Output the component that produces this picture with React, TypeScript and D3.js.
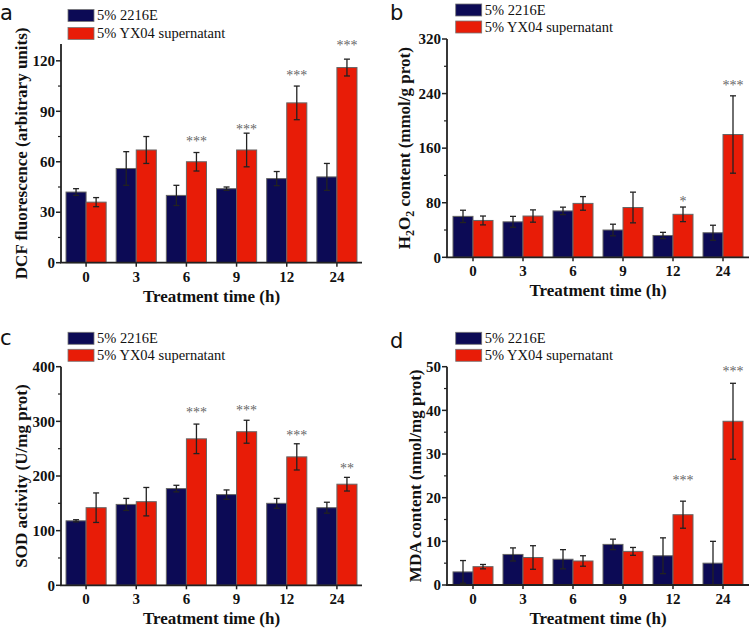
import React from "react";
import * as d3 from "d3";

// ---- data ----
const times = ["0", "3", "6", "9", "12", "24"];
const seriesNames = ["5% 2216E", "5% YX04 supernatant"];

const dcfCtrl = [42, 56, 40, 44, 50, 51];
const dcfCtrlErr = [2, 10, 6, 1, 4.2, 8];
const dcfYx = [36, 67, 60, 67, 95, 116];
const dcfYxErr = [2.7, 8, 5.5, 10, 10, 5];
const dcfStars = ["", "", "***", "***", "***", "***"];
const dcfStarAt = [0, 0, 74, 81.5, 113.5, 131];
const dcfTicks = [0, 30, 60, 90, 120];

const h2o2Ctrl = [60, 52, 68, 40, 32, 36];
const h2o2CtrlErr = [9, 8, 5.5, 8.5, 4.6, 11];
const h2o2Yx = [54, 60.5, 79, 73, 63, 180];
const h2o2YxErr = [6.5, 9, 10, 22.5, 10.7, 56.7];
const h2o2Stars = ["", "", "", "", "*", "***"];
const h2o2StarAt = [0, 0, 0, 0, 86.5, 257];
const h2o2Ticks = [0, 80, 160, 240, 320];

const sodCtrl = [118, 148, 177, 166, 150, 142];
const sodCtrlErr = [2, 11, 6, 8.5, 9, 10];
const sodYx = [142, 153, 268, 281, 235, 185];
const sodYxErr = [27, 26, 27, 21, 24, 12.5];
const sodStars = ["", "", "***", "***", "***", "**"];
const sodStarAt = [0, 0, 322, 326, 280, 220];
const sodTicks = [0, 100, 200, 300, 400];

const mdaCtrl = [3, 7, 5.9, 9.3, 6.7, 5];
const mdaCtrlErr = [2.6, 1.5, 2.2, 1.2, 4.1, 5];
const mdaYx = [4.2, 6.3, 5.5, 7.7, 16.1, 37.5];
const mdaYxErr = [0.5, 2.7, 1.2, 0.9, 3.1, 8.7];
const mdaStars = ["", "", "", "", "***", "***"];
const mdaStarAt = [0, 0, 0, 0, 24.8, 49.7];
const mdaTicks = [0, 10, 20, 30, 40, 50];

const NAVY = "#0c0a55";
const RED = "#e81c07";
const SERIF = "'Liberation Serif', 'Times New Roman', serif";
const SANS = "'DejaVu Sans', 'Open Sans', sans-serif";

type PanelProps = {
  letter: string;
  letterX: number;
  letterY: number;
  x0: number;
  x1: number;
  base: number;
  top: number;
  ymax: number;
  ticks: number[];
  ctrl: number[];
  ctrlErr: number[];
  yx: number[];
  yxErr: number[];
  stars: string[];
  starAt: number[];
  titleX: number;
  title: React.ReactNode;
  legX: number;
  legY: number;
  legGap: number;
  outerPad: number;
};

function Panel(p: PanelProps) {
  const x = d3
    .scaleBand<string>()
    .domain(times)
    .range([p.x0, p.x1])
    .paddingInner(0.2)
    .paddingOuter(p.outerPad);
  const x2 = d3
    .scaleBand<number>()
    .domain([0, 1])
    .range([0, x.bandwidth()]);
  const y = d3.scaleLinear().domain([0, p.ymax]).range([p.base, p.top]);
  const step = p.ticks[1] - p.ticks[0];
  const minor = d3.range(step / 2, p.ymax, step);
  const series = [
    { vals: p.ctrl, errs: p.ctrlErr, color: NAVY },
    { vals: p.yx, errs: p.yxErr, color: RED },
  ];
  const bw = x2.bandwidth();
  return (
    <g>
      <text x={p.letterX} y={p.letterY} fontFamily={SANS} fontSize={21} fill="#111">
        {p.letter}
      </text>
      {/* legend */}
      {seriesNames.map((n, i) => (
        <g key={n}>
          <rect
            x={p.legX}
            y={p.legY + i * p.legGap}
            width={26}
            height={12}
            fill={series[i].color}
            stroke="#777"
            strokeWidth={0.8}
          />
          <text
            x={p.legX + 29}
            y={p.legY + i * p.legGap + 10.5}
            fontFamily={SERIF}
            fontSize={14.5}
            fill="#111"
          >
            {n}
          </text>
        </g>
      ))}
      {/* bars */}
      {series.map((s, si) =>
        times.map((t, i) => {
          const bx = (x(t) as number) + (x2(si) as number);
          return (
            <g key={`${si}-${t}`}>
              <rect
                x={bx}
                y={y(s.vals[i])}
                width={bw}
                height={p.base - y(s.vals[i])}
                fill={s.color}
                stroke="#666"
                strokeWidth={1}
              />
              <line
                x1={bx + bw / 2}
                x2={bx + bw / 2}
                y1={y(Math.max(0, s.vals[i] - s.errs[i]))}
                y2={y(s.vals[i] + s.errs[i])}
                stroke="#222"
                strokeWidth={1.3}
              />
              <line
                x1={bx + bw / 2 - 3}
                x2={bx + bw / 2 + 3}
                y1={y(s.vals[i] + s.errs[i])}
                y2={y(s.vals[i] + s.errs[i])}
                stroke="#222"
                strokeWidth={1.3}
              />
              {s.vals[i] - s.errs[i] > 0 && (
                <line
                  x1={bx + bw / 2 - 3}
                  x2={bx + bw / 2 + 3}
                  y1={y(s.vals[i] - s.errs[i])}
                  y2={y(s.vals[i] - s.errs[i])}
                  stroke="#222"
                  strokeWidth={1.3}
                />
              )}
            </g>
          );
        })
      )}
      {/* stars */}
      {times.map((t, i) =>
        p.stars[i] ? (
          <text
            key={"s" + t}
            x={(x(t) as number) + (x2(1) as number) + bw / 2}
            y={y(p.starAt[i]) + 8}
            textAnchor="middle"
            fontFamily={SERIF}
            fontSize={14}
            fill="#666"
          >
            {p.stars[i]}
          </text>
        ) : null
      )}
      {/* y axis */}
      <line x1={p.x0} x2={p.x0} y1={p.base} y2={p.top} stroke="#222" strokeWidth={1.8} />
      {p.ticks.map((t) => (
        <g key={"yt" + t}>
          <line x1={p.x0 - 5} x2={p.x0} y1={y(t)} y2={y(t)} stroke="#222" strokeWidth={1.5} />
          <text
            x={p.x0 - 6}
            y={y(t)}
            dy="0.35em"
            textAnchor="end"
            fontFamily={SERIF}
            fontWeight="bold"
            fontSize={15}
            fill="#111"
          >
            {t}
          </text>
        </g>
      ))}
      {minor.map((t) => (
        <line key={"ym" + t} x1={p.x0 - 3} x2={p.x0} y1={y(t)} y2={y(t)} stroke="#222" strokeWidth={1.2} />
      ))}
      {/* x axis */}
      <line x1={p.x0 - 1} x2={p.x1} y1={p.base} y2={p.base} stroke="#222" strokeWidth={1.8} />
      {times.map((t) => {
        const cx = (x(t) as number) + x.bandwidth() / 2;
        return (
          <g key={"xt" + t}>
            <line x1={cx} x2={cx} y1={p.base} y2={p.base + 4} stroke="#222" strokeWidth={1.5} />
            <text
              x={cx}
              y={p.base + 19}
              textAnchor="middle"
              fontFamily={SERIF}
              fontWeight="bold"
              fontSize={15}
              fill="#111"
            >
              {t}
            </text>
          </g>
        );
      })}
      <text
        x={(p.x0 + p.x1) / 2}
        y={p.base + 39}
        textAnchor="middle"
        fontFamily={SERIF}
        fontWeight="bold"
        fontSize={17}
        fill="#111"
      >
        Treatment time (h)
      </text>
      <text
        transform={`translate(${p.titleX},${(p.base + p.top) / 2}) rotate(-90)`}
        textAnchor="middle"
        fontFamily={SERIF}
        fontWeight="bold"
        fontSize={17}
        fill="#111"
      >
        {p.title}
      </text>
    </g>
  );
}

export default function App() {
  return (
    <svg
      width={750}
      height={628}
      style={{ position: "absolute", left: 0, top: 0, background: "#fff" }}
    >
      <Panel
        letter="a"
        letterX={0}
        letterY={20}
        x0={61}
        x1={362}
        base={262.7}
        top={44}
        ymax={130}
        ticks={dcfTicks}
        ctrl={dcfCtrl}
        ctrlErr={dcfCtrlErr}
        yx={dcfYx}
        yxErr={dcfYxErr}
        stars={dcfStars}
        starAt={dcfStarAt}
        titleX={27}
        title="DCF fluorescence (arbitrary units)"
        legX={68}
        legY={9.5}
        legGap={18}
        outerPad={0.1}
      />
      <Panel
        letter="b"
        letterX={390}
        letterY={20}
        x0={447}
        x1={749}
        base={257.3}
        top={39}
        ymax={320}
        ticks={h2o2Ticks}
        ctrl={h2o2Ctrl}
        ctrlErr={h2o2CtrlErr}
        yx={h2o2Yx}
        yxErr={h2o2YxErr}
        stars={h2o2Stars}
        starAt={h2o2StarAt}
        titleX={410}
        title={
          <>
            H<tspan fontSize={12} dy={4}>2</tspan>
            <tspan dy={-4}>O</tspan>
            <tspan fontSize={12} dy={4}>2</tspan>
            <tspan dy={-4}> content (mmol/g prot)</tspan>
          </>
        }
        legX={455.7}
        legY={4}
        legGap={17}
        outerPad={0.12}
      />
      <Panel
        letter="c"
        letterX={0}
        letterY={345}
        x0={61}
        x1={362}
        base={585.3}
        top={366.7}
        ymax={400}
        ticks={sodTicks}
        ctrl={sodCtrl}
        ctrlErr={sodCtrlErr}
        yx={sodYx}
        yxErr={sodYxErr}
        stars={sodStars}
        starAt={sodStarAt}
        titleX={27}
        title="SOD activity (U/mg prot)"
        legX={68}
        legY={332.3}
        legGap={17}
        outerPad={0.1}
      />
      <Panel
        letter="d"
        letterX={390}
        letterY={348}
        x0={447}
        x1={749}
        base={585}
        top={366.7}
        ymax={50}
        ticks={mdaTicks}
        ctrl={mdaCtrl}
        ctrlErr={mdaCtrlErr}
        yx={mdaYx}
        yxErr={mdaYxErr}
        stars={mdaStars}
        starAt={mdaStarAt}
        titleX={421}
        title="MDA content (nmol/mg prot)"
        legX={455.7}
        legY={332.3}
        legGap={17}
        outerPad={0.12}
      />
    </svg>
  );
}
